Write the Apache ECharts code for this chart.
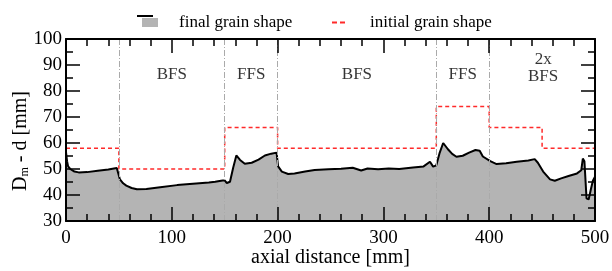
<!DOCTYPE html>
<html lang="en">

<head>
    <meta charset="UTF-8">
    <title>grain shape</title>
    <style>
        html, body { margin: 0; padding: 0; background: #fff; }
        #chart { width: 612px; height: 271px; }
    </style>
    <script src="https://cdn.jsdelivr.net/npm/echarts@6/dist/echarts.min.js"></script>
</head>

<body>
    <div id="chart"></div>
    <script>
        // final grain shape: [axial distance mm, Dm - d mm]
        var finalShape = [
            [0, 56.5], [1, 53], [2, 51], [4, 50], [8, 49], [12, 48.7], [20, 48.8], [30, 49.3],
            [40, 49.8], [48, 50.4], [49.5, 49.8], [51, 46], [54, 44.5], [57, 43.6], [62, 42.7],
            [67, 42.2], [76, 42.3], [89, 43], [105, 43.8], [120, 44.3], [135, 44.8], [141, 45.1],
            [148, 45.6], [150, 45.6], [152, 44.6], [155, 45.1], [158, 50.5], [161, 55.2],
            [164.5, 53.5], [169, 52], [175.5, 52.4], [182, 53.6], [188, 55.2], [194, 55.9],
            [199, 56.3], [200, 56.6], [200.5, 51], [204, 49], [210, 48.1], [216, 48.3], [226, 49],
            [235, 49.6], [248, 49.9], [260, 50.1], [271, 50.5], [279, 49.4], [285, 50.2],
            [295, 49.9], [305, 50.2], [315, 50], [328, 50.6], [338, 51], [344, 52.8], [347, 50.9],
            [350, 51.4], [353, 56], [356.5, 60], [361, 57.6], [365, 55.8], [369, 54.7], [375, 55.1],
            [381, 56.3], [387, 57.3], [391, 57], [394, 54.8], [401, 53], [407, 51.9], [416, 52.2],
            [426, 52.8], [437, 53.3], [443, 53.8], [446, 52.4], [451, 49], [457.5, 46], [462, 45.5],
            [468, 46.4], [475, 47.3], [483, 48.3], [487, 49.5], [488.5, 54], [490, 53], [492, 38.7],
            [494, 38.3], [496, 42], [498, 45.5], [500, 47]
        ];
        // initial grain shape: segment starts
        var initialShape = [[0, 58], [50, 50], [150, 66], [200, 58], [350, 74], [400, 66], [450, 58], [500, 58]];
        var sectionBounds = [50, 150, 200, 350, 400];
        var sectionLabels = [[100, 86.2, 'BFS'], [175, 86.2, 'FFS'], [275, 86.2, 'BFS'], [375, 86.2, 'FFS'], [451, 92, '2x'], [451, 85.4, 'BFS']];
        var xTicks = [0, 100, 200, 300, 400, 500];
        var yTicks = [30, 40, 50, 60, 70, 80, 90, 100];

        var serif = 'Liberation Serif';

        function axisBase(show) {
            return {
                type: 'value',
                z: 10,
                axisLine: { show: true, onZero: false, lineStyle: { color: '#000', width: 2 } },
                axisTick: { show: true, inside: true, length: 14, lineStyle: { color: '#000', width: 1.5 } },
                minorTick: { show: true, length: 7, lineStyle: { color: '#000', width: 1.5 } },
                splitLine: { show: false },
                axisLabel: { show: show, color: '#000', fontFamily: serif, fontSize: 19 }
            };
        }

        var xBottom = Object.assign(axisBase(true), {
            position: 'bottom', min: xTicks[0], max: xTicks[xTicks.length - 1], interval: 100,
            name: 'axial distance [mm]', nameLocation: 'middle', nameGap: 27, nameMoveOverlap: false,
            nameTextStyle: { color: '#000', fontFamily: serif, fontSize: 20 }
        });
        xBottom.minorTick.splitNumber = 5;
        xBottom.axisLabel.margin = 8;
        var xTop = Object.assign(axisBase(false), { position: 'top', min: 0, max: 500, interval: 100 });
        xTop.minorTick.splitNumber = 5;

        var yLeft = Object.assign(axisBase(true), {
            position: 'left', min: yTicks[0], max: yTicks[yTicks.length - 1], interval: 10,
            name: 'D{sub|m} - d [mm]', nameLocation: 'middle', nameGap: 35, nameRotate: 90, nameMoveOverlap: false,
            nameTextStyle: {
                color: '#000', fontFamily: serif, fontSize: 20, padding: [0, 22, 0, 0],
                rich: { sub: { fontFamily: serif, fontSize: 12, verticalAlign: 'bottom', padding: [8, 0, 0, 0] } }
            }
        });
        yLeft.minorTick.splitNumber = 2;
        yLeft.axisLabel.margin = 4;
        var yRight = Object.assign(axisBase(false), { position: 'right', min: 30, max: 100, interval: 10 });
        yRight.minorTick.splitNumber = 2;

        var chart = echarts.init(document.getElementById('chart'));
        chart.setOption({
            animation: false,
            grid: { left: 66, right: 17, top: 39, bottom: 50, outerBoundsMode: 'none', containLabel: false },
            legend: [
                {
                    left: 137, top: 9, itemWidth: 16, itemHeight: 9,
                    textStyle: { color: '#000', fontFamily: serif, fontSize: 17, padding: [0, 0, 0, 16] },
                    data: [{ name: 'final grain shape', icon: 'rect' }]
                },
                {
                    left: 327, top: 9, itemWidth: 13, itemHeight: 2,
                    textStyle: { color: '#000', fontFamily: serif, fontSize: 17, padding: [0, 0, 0, 20] },
                    data: [{ name: 'initial grain shape', icon: 'path://M0,0H5V2H0Z M8,0H13V2H8Z' }]
                }
            ],
            graphic: [
                { type: 'rect', left: 137, top: 15, z: 100, shape: { width: 16, height: 2 }, style: { fill: '#000' } }
            ],
            xAxis: [xBottom, xTop],
            yAxis: [yLeft, yRight],
            series: [
                {
                    name: 'bounds',
                    type: 'line',
                    z: 1,
                    data: [],
                    markLine: {
                        silent: true,
                        symbol: 'none',
                        label: { show: false },
                        lineStyle: { color: '#aaaaaa', width: 1, type: [6, 2, 1, 2] },
                        data: sectionBounds.map(function (b) { return { xAxis: b }; })
                    }
                },
                {
                    name: 'final grain shape',
                    type: 'line',
                    z: 2,
                    showSymbol: false,
                    symbol: 'none',
                    lineStyle: { color: '#000', width: 2 },
                    itemStyle: { color: '#b4b4b4' },
                    areaStyle: { color: '#b4b4b4', opacity: 1, origin: 'start' },
                    data: finalShape
                },
                {
                    name: 'initial grain shape',
                    type: 'line',
                    z: 3,
                    step: 'end',
                    symbol: 'none',
                    lineStyle: { color: '#ff2a2a', width: 1.5, type: [4, 3] },
                    itemStyle: { color: '#ff2a2a' },
                    data: initialShape
                },
                {
                    name: 'labels',
                    type: 'scatter',
                    z: 4,
                    symbolSize: 0,
                    silent: true,
                    label: {
                        show: true, position: 'inside', color: '#000',
                        fontFamily: serif, fontSize: 17,
                        formatter: function (p) { return p.data[2]; }
                    },
                    data: sectionLabels
                }
            ]
        });
    </script>
</body>

</html>
